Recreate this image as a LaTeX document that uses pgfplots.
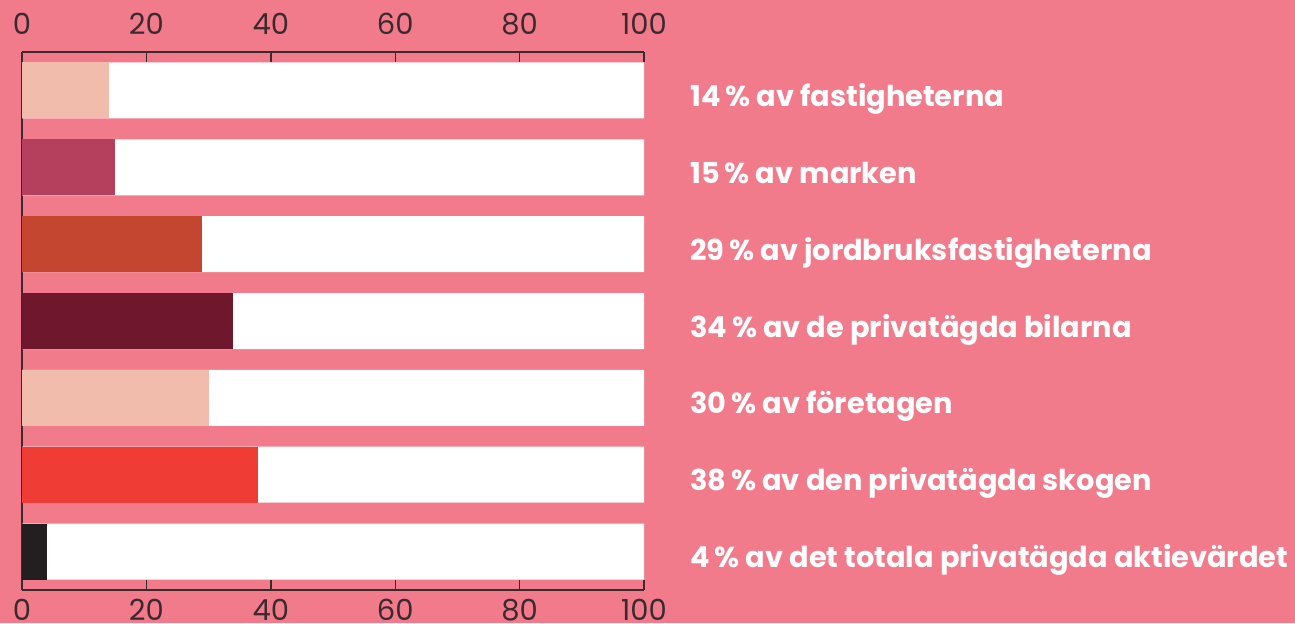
\documentclass[border=0pt]{standalone}
\usepackage{pgfplots}
\pgfplotsset{compat=1.18}
\usepackage{fontspec}
\setmainfont{Poppins}
\definecolor{bg}{HTML}{F27B8B}
\definecolor{linec}{HTML}{3A2A2E}
\definecolor{c1}{HTML}{F1BCAC}
\definecolor{c2}{HTML}{B5405E}
\definecolor{c3}{HTML}{C44530}
\definecolor{c4}{HTML}{6E172D}
\definecolor{c5}{HTML}{F1BCAC}
\definecolor{c6}{HTML}{EF3D35}
\definecolor{c7}{HTML}{231F20}
\begin{document}
\begin{tikzpicture}
\fill[bg] (0,0) rectangle (647.5pt,311.5pt);
\path[use as bounding box] (0,0) rectangle (647.5pt,311.5pt);
\pgfplotsset{
  common/.style={
    at={(11pt,16.5pt)}, anchor=south west, scale only axis,
    width=311pt, height=269pt,
    xmin=0, xmax=100, ymin=0.5, ymax=7.5, y dir=reverse,
    xtick={0,20,40,60,80,100},
    /pgf/number format/assume math mode=true,
    ticklabel style={font=\fontsize{14.5}{16}\selectfont, text=linec},
  }
}
\begin{axis}[common,
  axis x line=box, axis y line=left,
  axis line style={draw=linec, line width=0.7pt, -},
  xtick pos=both, tick align=inside, major tick length=5pt,
  tick style={draw=linec, line width=0.7pt},
  xticklabel pos=lower,
  xticklabel style={yshift=-1pt},
  ytick=\empty,
  xbar, bar width=28pt, bar shift=0pt, clip=false,
]
\addplot[fill=white, draw=none] coordinates {(100,1) (100,2) (100,3) (100,4) (100,5) (100,6) (100,7)};
\addplot[fill=c1, draw=none] coordinates {(14,1)};
\addplot[fill=c2, draw=none] coordinates {(15,2)};
\addplot[fill=c3, draw=none] coordinates {(29,3)};
\addplot[fill=c4, draw=none] coordinates {(34,4)};
\addplot[fill=c5, draw=none] coordinates {(30,5)};
\addplot[fill=c6, draw=none] coordinates {(38,6)};
\addplot[fill=c7, draw=none] coordinates {(4,7)};
\tikzset{lab/.style={anchor=base west, xshift=23pt, yshift=-8pt, text=white, font=\bfseries\fontsize{14.4}{16}\selectfont, inner sep=0pt}}
\node[lab] at (axis cs:100,1) {14\,\% av fastigheterna};
\node[lab] at (axis cs:100,2) {15\,\% av marken};
\node[lab] at (axis cs:100,3) {29\,\% av jordbruksfastigheterna};
\node[lab] at (axis cs:100,4) {34\,\% av de privatägda bilarna};
\node[lab] at (axis cs:100,5) {30\,\% av företagen};
\node[lab] at (axis cs:100,6) {38\,\% av den privatägda skogen};
\node[lab] at (axis cs:100,7) {4\,\% av det totala privatägda aktievärdet};
\end{axis}
\begin{axis}[common,
  axis x line*=top, axis y line=none,
  axis line style={draw=none},
  tick style={draw=none},
  xticklabel pos=upper,
  xticklabel style={yshift=5pt},
  ytick=\empty,
]
\end{axis}
\end{tikzpicture}
\end{document}
